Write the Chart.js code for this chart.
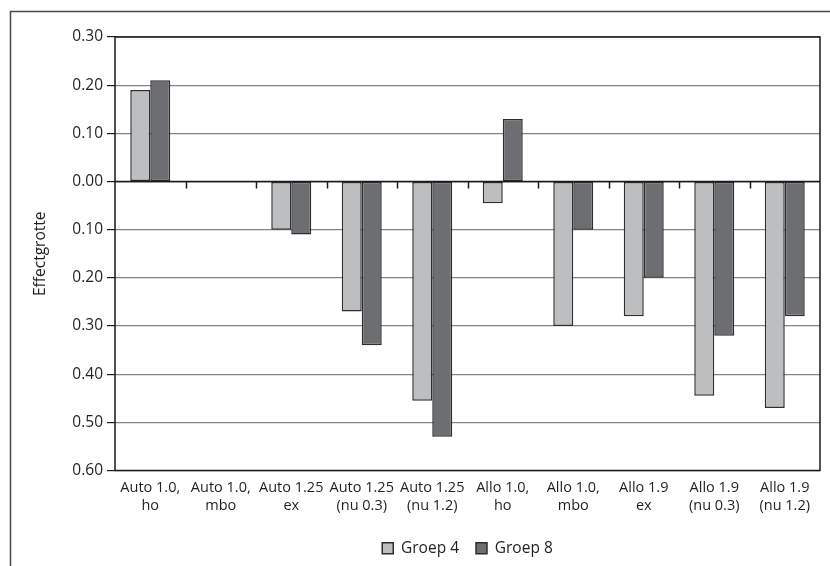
<!DOCTYPE html>
<html>
<head>
<meta charset="utf-8">
<script src="https://cdn.jsdelivr.net/npm/chart.js@4.4.1/dist/chart.umd.min.js"></script>
<style>
  html, body { margin: 0; padding: 0; background: #fff; overflow: hidden; }
  #wrap { width: 830px; height: 566px; position: relative; }
</style>
</head>
<body>
<div id="wrap"><canvas id="c" width="830" height="566"></canvas></div>
<script>
// Category labels (two lines each)
const categories = [
  ["Auto 1.0,", "ho"],
  ["Auto 1.0,", "mbo"],
  ["Auto 1.25", "ex"],
  ["Auto 1.25", "(nu 0.3)"],
  ["Auto 1.25", "(nu 1.2)"],
  ["Allo 1.0,", "ho"],
  ["Allo 1.0,", "mbo"],
  ["Allo 1.9", "ex"],
  ["Allo 1.9", "(nu 0.3)"],
  ["Allo 1.9", "(nu 1.2)"]
];

// Effect sizes per group
const groep4 = [0.19, null, -0.10, -0.27, -0.455, -0.045, -0.30, -0.28, -0.445, -0.47];
const groep8 = [0.21, null, -0.11, -0.34, -0.53, 0.13, -0.10, -0.20, -0.32, -0.28];

const seriesNames = ["Groep 4", "Groep 8"];
const axisTitle = "Effectgrotte";

// Value axis range
const yMin = -0.6;
const yMax = 0.3;
const yStep = 0.1;

const FONT = "'Open Sans', 'Noto Sans', sans-serif";
const INK = "#231f20";

// Outer frame, plot frame and the small category ticks on the zero line
const framePlugin = {
  id: "framePlugin",
  beforeDraw(chart) {
    const ctx = chart.ctx;
    ctx.save();
    ctx.strokeStyle = "#4a4a4a";
    ctx.lineWidth = 1.5;
    ctx.strokeRect(10.5, 11.5, 900, 700);
    ctx.restore();
  },
  afterDraw(chart) {
    const ctx = chart.ctx;
    const a = chart.chartArea;
    const xs = chart.scales.x;
    const ys = chart.scales.y;
    ctx.save();
    ctx.strokeStyle = "#1a1a1a";
    ctx.lineWidth = 1.5;
    ctx.strokeRect(a.left, a.top, a.right - a.left, a.bottom - a.top);
    const y0 = ys.getPixelForValue(0);
    ctx.beginPath();
    ctx.moveTo(a.left, y0);
    ctx.lineTo(a.right, y0);
    for (let i = 0; i < categories.length - 1; i++) {
      const x = Math.round((xs.getPixelForValue(i) + xs.getPixelForValue(i + 1)) / 2) + 0.5;
      ctx.moveTo(x, y0);
      ctx.lineTo(x, y0 + 7);
    }
    ctx.stroke();
    ctx.restore();
  }
};

new Chart(document.getElementById("c"), {
  type: "bar",
  data: {
    labels: categories,
    datasets: [
      {
        label: seriesNames[0],
        data: groep4,
        backgroundColor: "#bcbec0",
        borderColor: "#2e2e2e",
        borderWidth: 1.5,
        borderSkipped: false
      },
      {
        label: seriesNames[1],
        data: groep8,
        backgroundColor: "#6d6e71",
        borderColor: "#2e2e2e",
        borderWidth: 1.5,
        borderSkipped: false
      }
    ]
  },
  options: {
    responsive: false,
    devicePixelRatio: 1,
    animation: false,
    layout: { padding: { top: 37, right: 10, left: 0, bottom: 0 } },
    datasets: {
      bar: { categoryPercentage: 0.567, barPercentage: 1.0 }
    },
    plugins: {
      tooltip: { enabled: false },
      legend: {
        position: "bottom",
        fullSize: false,
        labels: {
          color: INK,
          font: { family: FONT, size: 15.5 },
          boxWidth: 11,
          boxHeight: 11,
          padding: 17
        }
      }
    },
    scales: {
      x: {
        grid: { display: false, drawTicks: false },
        border: { display: false },
        ticks: {
          color: INK,
          font: { family: FONT, size: 14.5, lineHeight: 1.2 },
          padding: 9,
          maxRotation: 0,
          autoSkip: false
        },
        afterFit(scale) { scale.height = 53; }
      },
      y: {
        min: yMin,
        max: yMax,
        grid: {
          color: (c) => (c.tick && Math.abs(c.tick.value) < 1e-9 ? "#1a1a1a" : "#858585"),
          lineWidth: 1.2,
          tickLength: 8,
          tickColor: "#1a1a1a"
        },
        border: { display: false },
        ticks: {
          stepSize: yStep,
          color: INK,
          font: { family: FONT, size: 15.5 },
          padding: 4,
          callback: (v) => Math.abs(v).toFixed(2)
        },
        title: {
          display: true,
          text: axisTitle,
          color: INK,
          font: { family: FONT, size: 15.5 },
          padding: { top: 31, bottom: 0 }
        },
        afterFit(scale) { scale.width = 115; }
      }
    }
  },
  plugins: [framePlugin]
});
</script>
</body>
</html>
